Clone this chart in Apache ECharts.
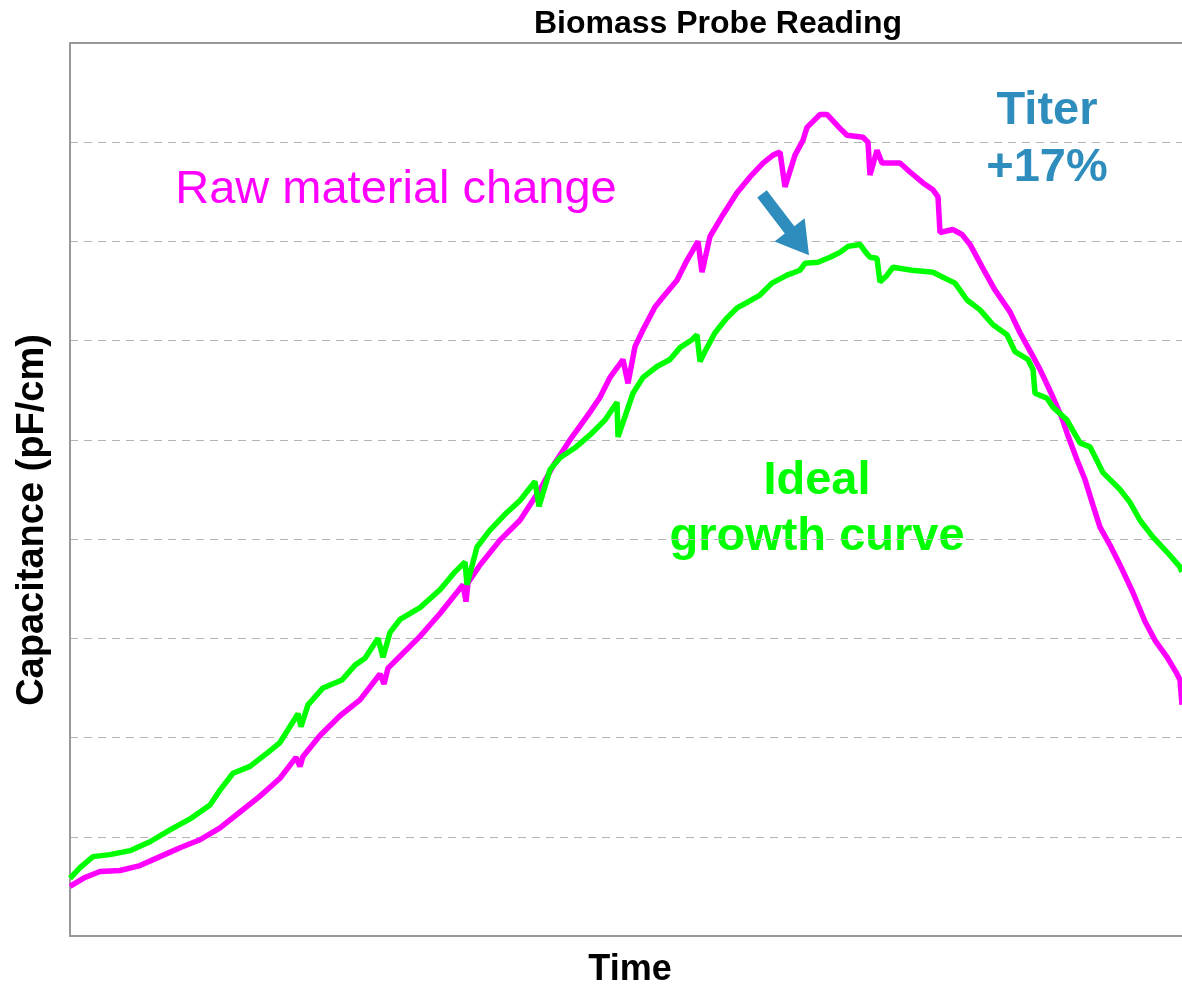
<!DOCTYPE html>
<html>
<head>
<meta charset="utf-8">
<script src="https://cdn.jsdelivr.net/npm/echarts@6/dist/echarts.min.js"></script>
<style>html,body{margin:0;padding:0;background:#fff}#c{width:1182px;height:986px}</style>
</head>
<body>
<div id="c"></div>
<script>
// Time (h) and capacitance (pF/cm, arbitrary scale)
const rawTime = [0,3.75,7.5,12.5,17.5,22.5,27.5,32.5,37.5,42.5,47.5,52.5,56.5,57.5,58.25,62.5,67.5,72.5,77.5,78.5,79.5,82.5,87.5,92.5,98.25,99,99.5,102.5,107.5,112.5,117.5,121.25,125,130,132.5,135,138.25,139.5,141.25,143.25,146.25,148.25,151.75,154.25,157,158,160,163.25,166.75,170,173.25,175.75,177.5,178.75,181.25,183.25,184.25,187.5,189.25,192.5,194.25,198.25,199.5,200,201.75,203,207.5,210,213.25,215.75,217,217.5,220.75,223,225,228.75,231.25,235,237.5,240.5,242.5,245.75,248,249.25,251.75,253.75,255.75,257.5,260,262.5,265.75,268.75,271.25,274.25,276.5,277.5,278];
const rawValue = [0.50,0.59,0.65,0.66,0.71,0.80,0.89,0.97,1.09,1.25,1.41,1.59,1.80,1.71,1.81,2.02,2.22,2.38,2.64,2.54,2.70,2.82,3.02,3.25,3.54,3.37,3.56,3.74,3.99,4.19,4.50,4.77,5.00,5.28,5.43,5.63,5.81,5.57,5.94,6.11,6.34,6.44,6.61,6.81,7.00,6.69,7.05,7.27,7.49,7.65,7.79,7.87,7.90,7.55,7.87,8.02,8.15,8.28,8.28,8.14,8.07,8.05,8.00,7.67,7.92,7.79,7.79,7.70,7.59,7.52,7.45,7.09,7.12,7.07,6.97,6.69,6.51,6.29,6.08,5.86,5.71,5.43,5.22,5.07,4.80,4.60,4.34,4.12,3.94,3.74,3.46,3.17,2.98,2.81,2.66,2.58,2.33];
const idealTime = [0,2.5,5.75,10,15,20,25,30,35,37.5,40.75,45,49.5,52.5,57,57.75,59.5,63.25,68,71.25,73.75,77,78.25,80,82.5,87.5,92.5,96.25,98.75,99.25,101.75,105,108.75,112.5,116.25,117.25,120,122.5,126.25,130,133.75,136.75,137,140.75,143.25,146.75,150,152.5,155.5,156.75,157.5,159.25,161.25,164.25,166.75,169.5,172.5,175.5,179.25,182.5,183.75,187,190,192.5,194.5,197.5,198.75,200,201.75,202.5,204.25,205.75,210.5,215.75,218.25,221.25,224.25,227.5,230.75,234.25,236.25,239.5,240.75,241.25,244.25,245.75,249.25,252.5,255,258.25,262.5,265,267.5,270.75,274.25,277.5,278];
const idealValue = [0.58,0.69,0.80,0.82,0.86,0.95,1.07,1.18,1.32,1.47,1.64,1.71,1.85,1.95,2.24,2.11,2.33,2.50,2.58,2.73,2.80,3.00,2.81,3.06,3.19,3.31,3.49,3.67,3.77,3.54,3.92,4.09,4.25,4.39,4.58,4.33,4.70,4.82,4.92,5.05,5.20,5.38,5.03,5.47,5.63,5.74,5.81,5.93,6.01,6.06,5.79,5.93,6.08,6.23,6.33,6.39,6.46,6.58,6.66,6.71,6.78,6.79,6.84,6.89,6.95,6.97,6.90,6.84,6.83,6.59,6.66,6.74,6.71,6.69,6.64,6.58,6.41,6.31,6.16,6.06,5.89,5.81,5.71,5.47,5.42,5.33,5.20,4.97,4.93,4.67,4.50,4.37,4.19,4.02,3.87,3.72,3.67];
// annotation arrow: [time, capacitance] of tail and tip
const arrowFrom = [173.0, 7.48];
const arrowTo = [184.75, 6.86];

const zip = (a, b) => a.map((x, i) => [x, b[i]]);
const FONT = '"Liberation Sans", Arial, sans-serif';
const BLUE = '#2e8dbc';

function renderArrow(params, api) {
  const p0 = api.coord(arrowFrom);
  const p1 = api.coord(arrowTo);
  const dx = p1[0] - p0[0], dy = p1[1] - p0[1];
  const len = Math.sqrt(dx * dx + dy * dy);
  const ux = dx / len, uy = dy / len;
  const nx = -uy, ny = ux;
  const headLen = 32, headHalf = 19, shaftHalf = 6;
  const bx = p1[0] - ux * headLen, by = p1[1] - uy * headLen;
  const pts = [
    [p0[0] + nx * shaftHalf, p0[1] + ny * shaftHalf],
    [bx + nx * shaftHalf, by + ny * shaftHalf],
    [bx + nx * headHalf, by + ny * headHalf],
    [p1[0], p1[1]],
    [bx - nx * headHalf, by - ny * headHalf],
    [bx - nx * shaftHalf, by - ny * shaftHalf],
    [p0[0] - nx * shaftHalf, p0[1] - ny * shaftHalf]
  ];
  return {type: 'polygon', shape: {points: pts}, style: {fill: BLUE}};
}

const chart = echarts.init(document.getElementById('c'), null, {renderer: 'canvas'});
chart.setOption({
  animation: false,
  grid: {left: 70, right: 0, top: 43, bottom: 50},
  xAxis: [{
    type: 'value', min: 0, max: 278,
    axisLine: {show: true, lineStyle: {color: '#999', width: 2}},
    axisTick: {show: false}, axisLabel: {show: false}, splitLine: {show: false}
  }, {
    type: 'value', min: 0, max: 278, position: 'top',
    axisLine: {show: true, onZero: false, lineStyle: {color: '#999', width: 2}},
    axisTick: {show: false}, axisLabel: {show: false}, splitLine: {show: false}
  }],
  yAxis: {
    type: 'value', min: 0, max: 9, interval: 1,
    axisLine: {show: true, lineStyle: {color: '#999', width: 2}},
    axisTick: {show: false}, axisLabel: {show: false},
    splitLine: {show: true, lineStyle: {color: '#b4b4b4', width: 1.2, type: [8, 6]}}
  },
  series: [{
    name: 'Raw material change', type: 'line', data: zip(rawTime, rawValue),
    symbol: 'none', lineStyle: {color: '#ff00ff', width: 5.5}, z: 2
  }, {
    name: 'Ideal growth curve', type: 'line', data: zip(idealTime, idealValue),
    symbol: 'none', lineStyle: {color: '#00ff00', width: 5.5}, z: 3
  }, {
    name: 'arrow', type: 'custom', data: [[arrowFrom[0], arrowFrom[1]]],
    renderItem: renderArrow, silent: true, z: 4
  }],
  graphic: [
    {type: 'text', x: 718, y: 24, style: {text: 'Biomass Probe Reading', font: 'bold 32px ' + FONT, fill: '#000', align: 'center', verticalAlign: 'middle'}},
    {type: 'text', x: 630, y: 970, style: {text: 'Time', font: 'bold 36px ' + FONT, fill: '#000', align: 'center', verticalAlign: 'middle'}},
    {type: 'text', x: 33, y: 520, rotation: Math.PI / 2, style: {text: 'Capacitance (pF/cm)', font: 'bold 38px ' + FONT, fill: '#000', align: 'center', verticalAlign: 'middle'}},
    {type: 'text', x: 396, y: 190, style: {text: 'Raw material change', font: '47px ' + FONT, fill: '#ff00ff', align: 'center', verticalAlign: 'middle'}},
    {type: 'text', x: 1047, y: 111, style: {text: 'Titer', font: 'bold 47px ' + FONT, fill: BLUE, align: 'center', verticalAlign: 'middle'}},
    {type: 'text', x: 1047, y: 168, style: {text: '+17%', font: 'bold 47px ' + FONT, fill: BLUE, align: 'center', verticalAlign: 'middle'}},
    {type: 'text', x: 817, y: 481, style: {text: 'Ideal', font: 'bold 47px ' + FONT, fill: '#00ff00', align: 'center', verticalAlign: 'middle'}},
    {type: 'text', x: 817, y: 537, style: {text: 'growth curve', font: 'bold 47px ' + FONT, fill: '#00ff00', align: 'center', verticalAlign: 'middle'}}
  ]
});
</script>
</body>
</html>
